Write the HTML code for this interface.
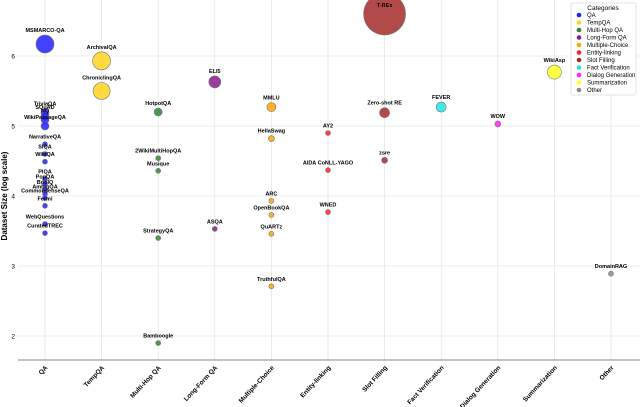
<!DOCTYPE html>
<html><head><meta charset="utf-8"><style>
body{margin:0;background:#fff}
svg{display:block;font-family:"Liberation Sans",sans-serif}
</style></head><body>
<svg id="chart" width="640" height="407">
<g id="grid"></g>
<g id="axes"></g>
<g id="marks"></g>
<text transform="translate(7,196) rotate(-90)" text-anchor="middle" font-size="8" font-weight="bold">Dataset Size (log scale)</text>
<g id="legend"></g>
</svg>
<script>
const categories=["QA","TempQA","Multi-Hop QA","Long-Form QA","Multiple-Choice","Entity-linking","Slot Filling","Fact Verification","Dialog Generation","Summarization","Other"];
const catColors=["#2020ff","#ffd21f","#2a8a2a","#8b1a8b","#ffa500","#ff2020","#a52a2a","#22e5e5","#ff22ff","#ffff22","#8c8c8c"];
const yTicks=[2,3,4,5,6];
const datasetNames=["MSMARCO-QA","TriviaQA","SQuAD","NQ","WikiPassageQA","NarrativeQA","SIQA","WikiQA","PIQA","PopQA","BoolQ","AmbigQA","CommonsenseQA","Fermi","WebQuestions","CuratedTREC",
"ArchivalQA","ChroniclingQA",
"HotpotQA","2WikiMultiHopQA","Musique","StrategyQA","Bamboogle",
"ELI5","ASQA",
"MMLU","HellaSwag","ARC","OpenBookQA","QuARTz","TruthfulQA",
"AY2","AIDA CoNLL-YAGO","WNED",
"T-REx","Zero-shot RE","zsre",
"FEVER","WOW","WikiAsp","DomainRAG"];
const cats=[0,0,0,0,0,0,0,0,0,0,0,0,0,0,0,0,1,1,2,2,2,2,2,3,3,4,4,4,4,4,4,5,5,5,6,6,6,7,8,9,10];
const values=[6.17,5.19,5.14,5.09,5.0,4.74,4.6,4.49,4.24,4.17,4.09,4.03,3.97,3.86,3.6,3.47,
5.93,5.5,
5.2,4.54,4.36,3.4,1.9,
5.63,3.53,
5.27,4.82,3.93,3.73,3.46,2.71,
4.9,4.37,3.77,
6.6,5.19,4.51,
5.27,5.03,5.77,2.89];
const sizes=[9,4,4,4,4,2.5,2.5,2.5,2.5,2.5,2.5,2.5,2.5,2.5,2.5,2.5,
9,8.5,4,2.5,2.5,2.5,2.5,6,2.5,4.5,3,2.5,2.5,2.5,2.5,2.5,2.5,2.5,21,5,3,5,3,7,2.5];
const NS="http://www.w3.org/2000/svg";
const X0=45,DX=56.6,plotLeft=30,plotRight=640,plotTop=0,plotBottom=360;
const xS=i=>X0+i*DX;
const yS=v=>56+(6-v)*70;
function mk(t,a,p){const e=document.createElementNS(NS,t);for(const k in a)e.setAttribute(k,a[k]);p.appendChild(e);return e;}
const gGrid=document.getElementById('grid'),gAxes=document.getElementById('axes'),gMarks=document.getElementById('marks'),gLegend=document.getElementById('legend');
categories.forEach((c,i)=>{
 const l=mk('line',{x1:xS(i),x2:xS(i),y1:plotTop,y2:plotBottom,stroke:'#e6e6e6','stroke-width':0.8},gGrid);
 
 
 const t=mk('text',{transform:`translate(${xS(i)+3},${plotBottom+8}) rotate(-47)`,'text-anchor':'end','font-size':6.5,'font-weight':'bold'},gAxes);
 t.textContent=c;
 
 
});
yTicks.forEach(v=>{
 const l=mk('line',{x1:plotLeft-12,x2:plotRight,y1:yS(v),y2:yS(v),stroke:'#e6e6e6','stroke-width':0.8},gGrid);
 
 
 const t=mk('text',{x:15,y:yS(v)+2.5,'font-size':6.5,'text-anchor':'end'},gAxes);
 t.textContent=v;
 
 
});
const ax=mk('line',{x1:plotLeft-12,x2:plotRight,y1:plotBottom,y2:plotBottom,stroke:'#888','stroke-width':1},gAxes);


datasetNames.forEach((n,i)=>{
 const cx=xS(cats[i]),cy=yS(values[i]),r=sizes[i];
 const c=mk('circle',{cx:cx,cy:cy,r:r,fill:catColors[cats[i]],stroke:'#777','stroke-width':0.6,'fill-opacity':0.85},gMarks);
 
 
});
datasetNames.forEach((n,i)=>{
 const cx=xS(cats[i]),cy=yS(values[i]),r=sizes[i];
 const ly=r>15?cy-r+14:cy-r-3;
 const t=mk('text',{x:cx,y:ly,'text-anchor':'middle','font-size':5.5,'font-weight':'bold'},gMarks);
 t.textContent=n;
 
 
});
const box=mk('rect',{x:571,y:3,width:65,height:92,fill:'#fff',stroke:'#ddd','stroke-width':0.8,rx:2},gLegend);


const lt=mk('text',{x:603,y:10,'text-anchor':'middle','font-size':6.5},gLegend);
lt.textContent='Categories';


categories.forEach((c,i)=>{
 const y=15+i*7.5;
 const d=mk('circle',{cx:579,cy:y,r:2.3,fill:catColors[i]},gLegend);
 
 
 const t=mk('text',{x:587,y:y+2.2,'font-size':6},gLegend);
 t.textContent=c;
 
 
});
</script>
</body></html>
